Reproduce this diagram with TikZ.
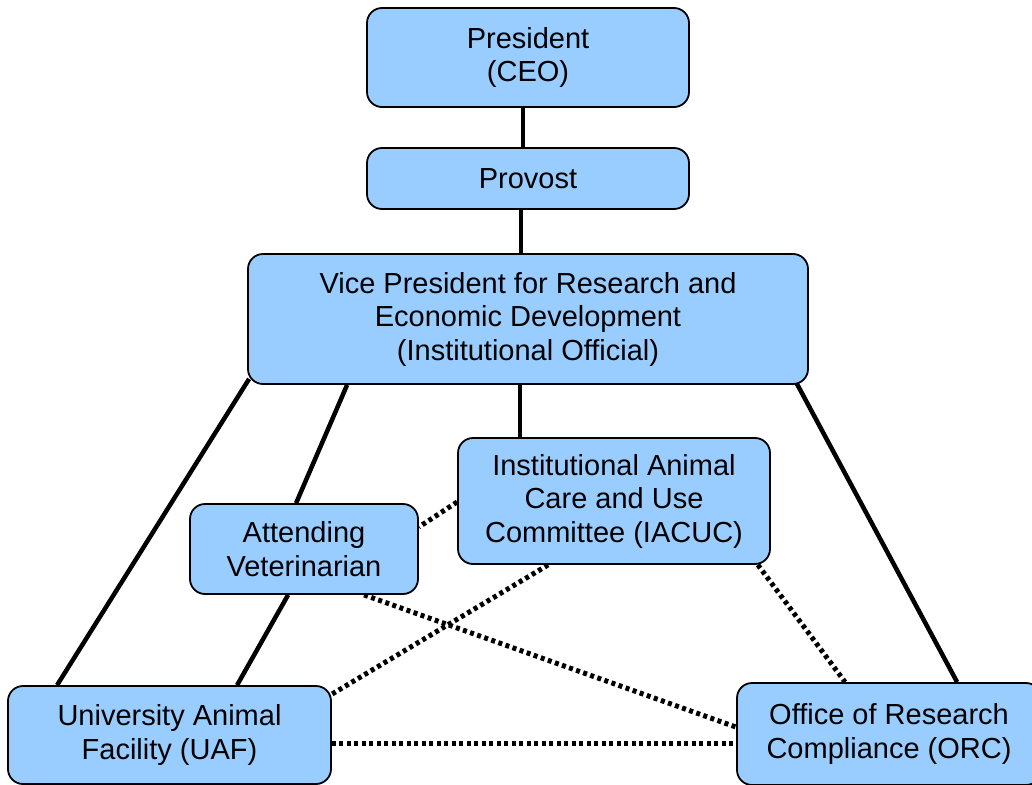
\documentclass[tikz,border=0pt]{standalone}
\usepackage{fontspec}
\setmainfont{Liberation Sans}
\usetikzlibrary{backgrounds}
\definecolor{boxblue}{HTML}{99CCFF}
\begin{document}
\begin{tikzpicture}[x=1pt,y=-1pt,
  orgbox/.style={draw=black,line width=1.8pt,fill=boxblue,rounded corners=15pt,
    align=center,inner sep=0pt,font=\fontsize{29}{33.5}\selectfont},
  solidlink/.style={line width=4.5pt},
  dotlink/.style={line width=5pt,dash pattern=on 4pt off 3.5pt}]
\useasboundingbox (0,0) rectangle (1032,784);
\clip (0,0) rectangle (1032,784);
\node[orgbox,minimum width=322pt,minimum height=99pt] (pres) at (528,57.5) {President\\(CEO)};
\node[orgbox,minimum width=322pt,minimum height=61pt] (prov) at (528,178.5) {Provost};
\node[orgbox,minimum width=560pt,minimum height=130pt] (vp) at (528,319) {Vice President for Research and\\Economic Development\\(Institutional Official)};
\node[orgbox,minimum width=312pt,minimum height=126pt] (iacuc) at (614,501) {Institutional Animal\\Care and Use\\Committee (IACUC)};
\node[orgbox,minimum width=228pt,minimum height=90pt] (vet) at (304,549) {Attending\\Veterinarian};
\node[orgbox,minimum width=323pt,minimum height=98pt] (uaf) at (169.5,735) {University Animal\\Facility (UAF)};
\node[orgbox,minimum width=304pt,minimum height=102pt] (orc) at (889,734) {Office of Research\\Compliance (ORC)};
\begin{scope}[on background layer]
\draw[solidlink] ([xshift=-5]pres.south) -- ([xshift=-5]prov.north);
\draw[solidlink] ([xshift=-7]prov.south) -- ([xshift=-7]vp.north);
\draw[solidlink] ([xshift=-8]vp.south) -- ([xshift=-8]vp.south |- iacuc.north);
\draw[solidlink] ([shift={(2,-6)}]vp.south west) -- ([xshift=50]uaf.north west);
\draw[solidlink] ([xshift=100]vp.south west) -- ([xshift=107]vet.north west);
\draw[solidlink] ([xshift=99]vet.south west) -- ([xshift=230]uaf.north west);
\draw[solidlink] ([shift={(-13,-3)}]vp.south east) -- ([xshift=221]orc.north west);
\draw[dotlink] ([yshift=-1]iacuc.west) -- ([yshift=22]vet.east);
\draw[dotlink] ([xshift=91]iacuc.south west) -- ([yshift=-9]uaf.north east);
\draw[dotlink] ([xshift=175]vet.south west) -- ([yshift=-45]orc.north west);
\draw[dotlink] ([xshift=-13]iacuc.south east) -- ([xshift=109]orc.north west);
\draw[dotlink] ([yshift=-8]uaf.east) -- ([yshift=-9]orc.west);
\end{scope}
\end{tikzpicture}
\end{document}
